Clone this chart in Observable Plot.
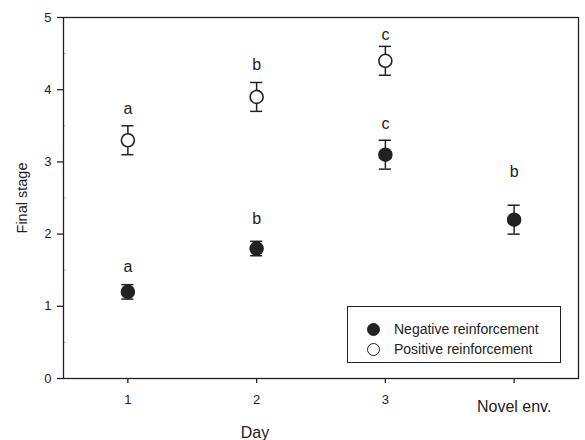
<!DOCTYPE html>
<html><head><meta charset="utf-8">
<script src="https://cdn.jsdelivr.net/npm/d3@7"></script>
<script src="https://cdn.jsdelivr.net/npm/@observablehq/plot@0.6"></script>
<style>
body{margin:0;background:#fff;font-family:"Liberation Sans",Arial,sans-serif;}
#wrap{position:relative;width:585px;height:440px;}
#legend{position:absolute;left:347px;top:306px;width:212px;height:55px;border:1.3px solid #222;background:#fff;font-size:14px;color:#222;}
.row{position:absolute;left:19px;display:flex;align-items:center;height:16px;white-space:nowrap}
.sw{width:11px;height:11px;border-radius:50%;border:1.6px solid #222;margin-right:14px;box-sizing:content-box}
</style></head><body><div id="wrap"></div>
<script>
const dayPos = [1, 2, 3, 4];
const dayLabels = ["1", "2", "3", "Novel env."];
const negMean = [1.2, 1.8, 3.1, 2.2];
const negErr = [0.1, 0.1, 0.2, 0.2];
const negLetter = ["a", "b", "c", "b"];
const negLetterY = [1.55, 2.21, 3.52, 2.86];
const posMean = [3.3, 3.9, 4.4];
const posErr = [0.2, 0.2, 0.2];
const posLetter = ["a", "b", "c"];
const posLetterY = [3.73, 4.35, 4.76];
const seriesNames = ["Negative reinforcement", "Positive reinforcement"];
const yTicks = [0, 1, 2, 3, 4, 5];
const yMinor = [0.5, 1.5, 2.5, 3.5, 4.5];

const ink = "#222";
const neg = negMean.map((m, i) => ({x: dayPos[i], mean: m, err: negErr[i], letter: negLetter[i], ly: negLetterY[i]}));
const pos = posMean.map((m, i) => ({x: dayPos[i], mean: m, err: posErr[i], letter: posLetter[i], ly: posLetterY[i]}));
const all = neg.concat(pos);
const capHalf = 0.047;

const chart = Plot.plot({
  width: 585, height: 440,
  marginLeft: 63, marginRight: 7, marginTop: 17, marginBottom: 62,
  style: {fontFamily: "'Liberation Sans', Arial, sans-serif", color: ink, fontSize: "13px", background: "#fff"},
  x: {domain: [0.5, 4.5]},
  y: {domain: [0, 5]},
  marks: [
    Plot.axisY({ticks: yMinor, tickSize: 3, dx: 3, tickFormat: () => "", label: null, stroke: "#bbb"}),
    Plot.axisY({ticks: yTicks, tickSize: 6, tickPadding: 6, tickFormat: d => String(d), fontSize: 13, label: null, strokeWidth: 1.3}),
    Plot.axisX({ticks: dayPos.slice(0, 3), tickFormat: d => dayLabels[dayPos.indexOf(d)], tickSize: 5, tickPadding: 11, fontSize: 13, label: null, strokeWidth: 1.3}),
    Plot.axisX({ticks: dayPos.slice(3), tickFormat: d => dayLabels[dayPos.indexOf(d)], tickSize: 5, tickPadding: 17, fontSize: 16, label: null, strokeWidth: 1.3}),
    Plot.frame({stroke: ink, strokeWidth: 1.3}),
    Plot.ruleX(all, {x: "x", y1: d => d.mean - d.err, y2: d => d.mean + d.err, stroke: ink, strokeWidth: 1.5}),
    Plot.ruleY(all, {y: d => d.mean + d.err, x1: d => d.x - capHalf, x2: d => d.x + capHalf, stroke: ink, strokeWidth: 1.5}),
    Plot.ruleY(all, {y: d => d.mean - d.err, x1: d => d.x - capHalf, x2: d => d.x + capHalf, stroke: ink, strokeWidth: 1.5}),
    Plot.dot(neg, {x: "x", y: "mean", r: 6.5, fill: ink, stroke: ink, strokeWidth: 1.5}),
    Plot.dot(pos, {x: "x", y: "mean", r: 6.5, fill: "#fff", stroke: ink, strokeWidth: 1.6}),
    Plot.text(all, {x: "x", y: "ly", text: "letter", fontSize: 16, fill: ink}),
    Plot.text(["Final stage"], {text: d => d, frameAnchor: "left", textAnchor: "middle", lineAnchor: "middle", rotate: -90, dx: -41, fontSize: 14.5, fill: ink}),
    Plot.text(["Day"], {text: d => d, frameAnchor: "bottom", dx: -66, dy: 59, fontSize: 16, fill: ink})
  ]
});
const wrap = document.getElementById("wrap");
wrap.appendChild(chart);

const legend = document.createElement("div");
legend.id = "legend";
seriesNames.forEach((name, i) => {
  const row = document.createElement("div");
  row.className = "row";
  row.style.top = (14 + i * 20) + "px";
  const sw = document.createElement("span");
  sw.className = "sw";
  sw.style.background = i === 0 ? ink : "#fff";
  const t = document.createElement("span");
  t.textContent = name;
  row.appendChild(sw); row.appendChild(t);
  legend.appendChild(row);
});
wrap.appendChild(legend);
</script></body></html>
